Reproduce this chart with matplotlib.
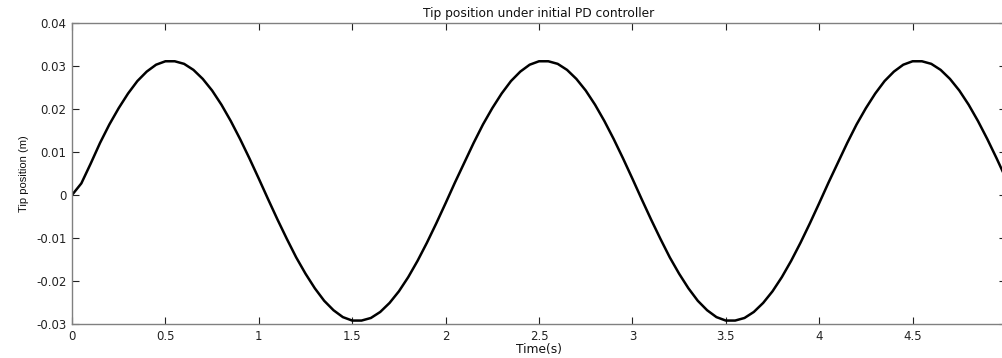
import numpy as np
import matplotlib
matplotlib.use("Agg")
import matplotlib.pyplot as plt
import matplotlib.ticker as mticker

plt.rcParams["font.family"] = ["DejaVu Sans"]

time_s = np.arange(0, 101) * 0.05
tip_pos = np.array([
    0.0000, 0.0027, 0.0073, 0.0121, 0.0164, 0.0202, 0.0236, 0.0265, 0.0287, 0.0303,
    0.0311, 0.0311, 0.0305, 0.0291, 0.0270, 0.0243, 0.0210, 0.0172, 0.0130, 0.0085,
    0.0038, -0.0010, -0.0057, -0.0102, -0.0145, -0.0183, -0.0217, -0.0246, -0.0268, -0.0284,
    -0.0292, -0.0292, -0.0286, -0.0272, -0.0251, -0.0224, -0.0191, -0.0153, -0.0111, -0.0066,
    -0.0019, 0.0029, 0.0075, 0.0121, 0.0164, 0.0202, 0.0236, 0.0265, 0.0287, 0.0303,
    0.0311, 0.0311, 0.0305, 0.0291, 0.0270, 0.0243, 0.0210, 0.0172, 0.0130, 0.0085,
    0.0038, -0.0010, -0.0057, -0.0102, -0.0145, -0.0183, -0.0217, -0.0246, -0.0268, -0.0284,
    -0.0292, -0.0292, -0.0286, -0.0272, -0.0251, -0.0224, -0.0191, -0.0153, -0.0111, -0.0066,
    -0.0019, 0.0029, 0.0075, 0.0121, 0.0164, 0.0202, 0.0236, 0.0265, 0.0287, 0.0303,
    0.0311, 0.0311, 0.0305, 0.0291, 0.0270, 0.0243, 0.0210, 0.0172, 0.0130, 0.0085,
    0.0038,
])

x_ticks = [0, 0.5, 1, 1.5, 2, 2.5, 3, 3.5, 4, 4.5, 5]
y_ticks = [-0.03, -0.02, -0.01, 0, 0.01, 0.02, 0.03, 0.04]

W, H = 1003, 358
fig = plt.figure(figsize=(W / 100, H / 100), dpi=100)
fig.patch.set_facecolor("white")

# axes box: left 72px, top 23px, bottom 324px, right ~1006px (just past the edge)
ax = fig.add_axes([72 / W, (H - 324) / H, (1006 - 72) / W, (324 - 23) / H])

ax.plot(time_s, tip_pos, color="black", linewidth=1.8,
        solid_joinstyle="round", solid_capstyle="round")

ax.set_xlim(0, 5)
ax.set_ylim(-0.03, 0.04)
ax.set_xticks(x_ticks)
ax.set_yticks(y_ticks)
ax.xaxis.set_major_formatter(mticker.FuncFormatter(lambda v, _: f"{v:g}"))
ax.yaxis.set_major_formatter(
    mticker.FuncFormatter(lambda v, _: "0" if abs(v) < 1e-9 else f"{v:.2f}")
)

ax.tick_params(direction="in", length=5, width=0.8, top=True, right=True,
               labelsize=8.5, colors="#222222", pad=4)
for s in ax.spines.values():
    s.set_color("#808080")
    s.set_linewidth(1.0)

ax.set_title("Tip position under initial PD controller", fontsize=8.8, pad=4,
             color="#111111")
ax.set_xlabel("Time(s)", fontsize=8.8, labelpad=0, color="#111111")
ax.set_ylabel("Tip position (m)", fontsize=8, labelpad=5, color="#111111",
              family=["Liberation Sans", "DejaVu Sans"])

fig.savefig("out.png", dpi=100, facecolor="white")
